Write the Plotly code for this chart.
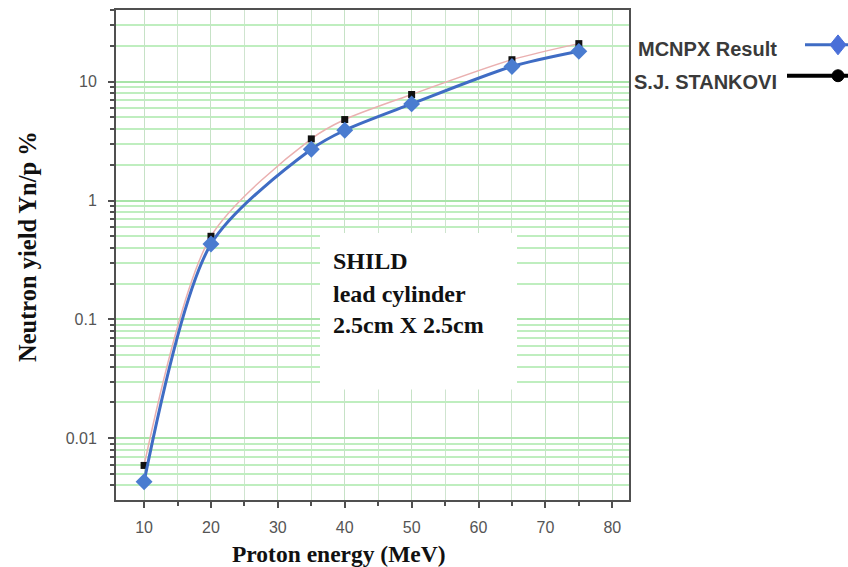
import plotly.graph_objects as go

# Proton energy (MeV)
energy = [10, 20, 35, 40, 50, 65, 75]
# Neutron yield Yn/p (%)
mcnpx_yield = [0.0043, 0.43, 2.7, 3.9, 6.5, 13.4, 18.0]
stankovic_yield = [0.0059, 0.50, 3.3, 4.8, 7.8, 15.3, 20.9]

x_tick_vals = [10, 20, 30, 40, 50, 60, 70, 80]
y_tick_vals = [0.01, 0.1, 1, 10]
y_tick_text = ["0.01", "0.1", "1", "10"]

series_names = ["MCNPX Result", "S.J. STANKOVI"]
note_lines = ["SHILD", "lead cylinder", "2.5cm X 2.5cm"]

W, H = 848, 567
L, R, T, B = 116, 629, 8, 500


def px(x):
    return (x - L) / (R - L)


def py(y):
    return (B - y) / (B - T)


BLUE = "#3f6cc4"
fig = go.Figure()

fig.add_trace(go.Scatter(
    x=energy, y=stankovic_yield, mode="lines+markers",
    line=dict(color="#eab0b0", width=1.5, shape="spline", smoothing=0.8),
    marker=dict(symbol="square", size=7, color="#111111"),
    name=series_names[1], showlegend=False,
))
fig.add_trace(go.Scatter(
    x=energy, y=mcnpx_yield, mode="lines+markers",
    line=dict(color=BLUE, width=3, shape="spline", smoothing=0.8),
    marker=dict(symbol="diamond", size=13, color="#4a7cd0"),
    name=series_names[0], showlegend=False,
))

axis_common = dict(
    showline=True, linecolor="#505050", linewidth=2, mirror=True,
    ticks="outside", tickcolor="#505050", ticklen=6, tickwidth=1.5,
    zeroline=False,
)
tick_font = dict(family="Liberation Sans", size=16, color="#555555")

fig.update_xaxes(
    range=[5.8, 82.5], tickvals=x_tick_vals, showgrid=True,
    gridcolor="#c6e2c6", gridwidth=1, tickfont=tick_font, ticklabelstandoff=6,
    minor=dict(dtick=5, tick0=0, ticks="outside", ticklen=4, tickcolor="#505050",
               showgrid=True, gridcolor="#cfe4cf"),
    **axis_common,
)
fig.update_yaxes(
    type="log", range=[-2.52, 1.603], tickvals=y_tick_vals, ticktext=y_tick_text,
    showgrid=True, gridcolor="#a8e4a8", gridwidth=1.5, tickfont=tick_font,
    ticklabelstandoff=8,
    minor=dict(dtick="D1", ticks="outside", ticklen=4, tickcolor="#505050",
               showgrid=True, gridcolor="#bfeebf"),
    **axis_common,
)

shapes = []
annotations = []

# white note box inside the plot
shapes.append(dict(type="rect", xref="paper", yref="paper",
                   x0=px(320), x1=px(517), y0=py(389), y1=py(232),
                   fillcolor="white", line=dict(width=0), layer="above"))
for text, yy in zip(note_lines, [260, 293, 324]):
    annotations.append(dict(text="<b>%s</b>" % text, xref="paper", yref="paper",
                            x=px(331), y=py(yy), xanchor="left", yanchor="middle",
                            showarrow=False,
                            font=dict(family="Liberation Serif", size=24, color="#111111")))

# axis titles
annotations.append(dict(text="<b>Proton energy (MeV)</b>", xref="paper", yref="paper",
                        x=px(339), y=py(554), xanchor="center", yanchor="middle",
                        showarrow=False,
                        font=dict(family="Liberation Serif", size=23.5, color="#111111")))
annotations.append(dict(text="<b>Neutron yield Yn/p %</b>", xref="paper", yref="paper",
                        x=px(27), y=py(246), xanchor="center", yanchor="middle",
                        textangle=-90, showarrow=False,
                        font=dict(family="Liberation Serif", size=24.5, color="#111111")))

# legend: label on the left, line sample with marker on the right
legend_rows = [
    (series_names[0], 47, 43, BLUE, 3, "diamond"),
    (series_names[1], 80, 74, "#000000", 4, "circle"),
]
for label, ty, ly, color, lw, sym in legend_rows:
    annotations.append(dict(text="<b>%s</b>" % label, xref="paper", yref="paper",
                            x=px(779), y=py(ty), xanchor="right", yanchor="middle",
                            showarrow=False,
                            font=dict(family="Liberation Sans", size=20, color="#3a3a3a")))
    x_start = 805 if sym == "diamond" else 787
    shapes.append(dict(type="line", xref="paper", yref="paper",
                       x0=px(x_start), x1=px(848), y0=py(ly), y1=py(ly),
                       line=dict(color=color, width=lw)))
    cx, cy = 838, ly
    if sym == "diamond":
        path = "M %f %f L %f %f L %f %f L %f %f Z" % (
            px(cx - 8), py(cy), px(cx), py(cy - 10), px(cx + 8), py(cy), px(cx), py(cy + 10))
        shapes.append(dict(type="path", xref="paper", yref="paper", path=path,
                           fillcolor="#4a6fd8", line=dict(color="#4a6fd8", width=1)))
    else:
        shapes.append(dict(type="circle", xref="paper", yref="paper",
                           x0=px(cx - 6), x1=px(cx + 6), y0=py(cy + 6), y1=py(cy - 6),
                           fillcolor="#000000", line=dict(color="#000000", width=1)))

fig.update_layout(
    width=W, height=H,
    margin=dict(l=L, r=W - R, t=T, b=H - B),
    paper_bgcolor="white", plot_bgcolor="white",
    showlegend=False,
    shapes=shapes, annotations=annotations,
)

fig.write_html("out.html")
